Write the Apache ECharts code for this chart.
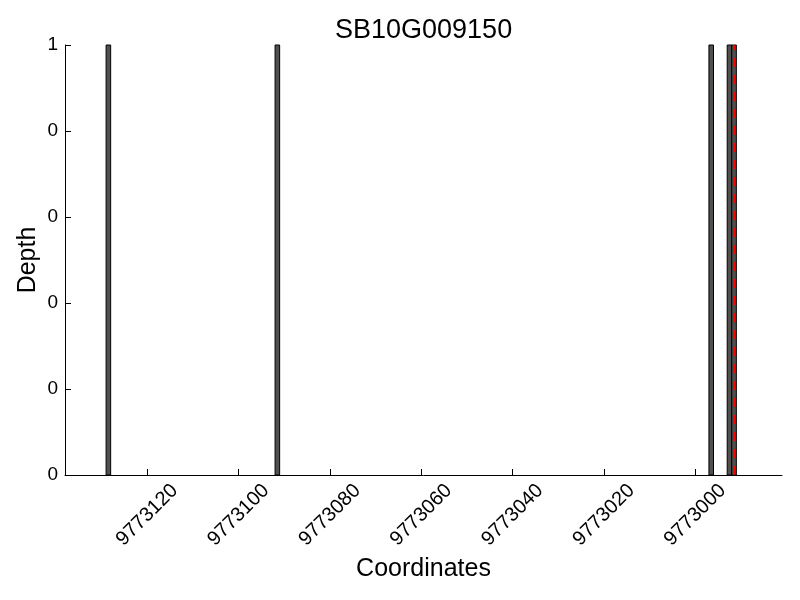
<!DOCTYPE html>
<html>
<head>
<meta charset="utf-8">
<script src="https://cdn.jsdelivr.net/npm/echarts@6/dist/echarts.min.js"></script>
<style>html,body{margin:0;padding:0;background:#fff}#c{width:800px;height:600px}</style>
</head>
<body>
<div id="c"></div>
<script>
const titleText = 'SB10G009150';
const binStarts = [9773128, 9773091, 9772996, 9772992, 9772991];
const binEnds   = [9773129, 9773092, 9772997, 9772993, 9772992];
const depths    = [1, 1, 1, 1, 1];
const markerPos = 9772991.5;
const xTickValues = [9773120, 9773100, 9773080, 9773060, 9773040, 9773020, 9773000];
const yTickValues = [0, 0.2, 0.4, 0.6, 0.8, 1];
const yTickLabels = ['0', '0', '0', '0', '0', '1'];
const xMin = 9772981, xMax = 9773138;

const FONT = 'Liberation Sans';
const chart = echarts.init(document.getElementById('c'), null, {renderer: 'canvas'});
const barData = binStarts.map((s, i) => [s, binEnds[i], depths[i]]);

chart.setOption({
  animation: false,
  backgroundColor: '#fff',
  title: {
    text: titleText, left: 330, top: 12,
    textStyle: {fontFamily: FONT, fontSize: 27, fontWeight: 'normal', color: '#000'}
  },
  grid: {left: 65, right: 18, top: 45, bottom: 125, containLabel: false},
  xAxis: {
    type: 'value', inverse: true, min: xMin, max: xMax,
    name: 'Coordinates', nameLocation: 'middle', nameGap: 81,
    nameTextStyle: {fontFamily: FONT, fontSize: 25, color: '#000'},
    splitLine: {show: false},
    axisLine: {show: true, onZero: false, lineStyle: {color: '#000', width: 1}},
    axisTick: {show: true, inside: true, length: 6, customValues: xTickValues, lineStyle: {color: '#000'}},
    axisLabel: {
      customValues: xTickValues, rotate: 45, align: 'center', verticalAlign: 'middle', margin: 40,
      fontFamily: FONT, fontSize: 20, color: '#000',
      formatter: v => String(v)
    }
  },
  yAxis: {
    type: 'value', min: 0, max: 1,
    name: 'Depth', nameLocation: 'middle', nameGap: 24, nameMoveOverlap: false,
    nameTextStyle: {fontFamily: FONT, fontSize: 25, color: '#000'},
    splitLine: {show: false},
    axisLine: {show: true, lineStyle: {color: '#000', width: 1}},
    axisTick: {show: true, inside: true, length: 6, customValues: yTickValues, lineStyle: {color: '#000'}},
    axisLabel: {
      customValues: yTickValues, margin: 7, fontFamily: FONT, fontSize: 19, color: '#000',
      formatter: v => {
        const i = yTickValues.findIndex(t => Math.abs(t - v) < 1e-9);
        return i >= 0 ? yTickLabels[i] : '';
      }
    }
  },
  series: [
    {
      type: 'custom',
      data: barData,
      encode: {x: [0, 1], y: 2},
      renderItem: function (params, api) {
        const p0 = api.coord([api.value(0), api.value(2)]);
        const p1 = api.coord([api.value(1), 0]);
        const x = Math.min(p0[0], p1[0]);
        const w = Math.abs(p1[0] - p0[0]);
        return {
          type: 'rect',
          shape: {x: x, y: p0[1], width: w, height: p1[1] - p0[1]},
          style: {fill: '#505050', stroke: '#000', lineWidth: 1}
        };
      }
    },
    {
      type: 'line',
      data: [[markerPos, 0], [markerPos, 1]],
      symbol: 'none',
      lineStyle: {color: '#ff0000', width: 2, type: [9, 8]},
      z: 5
    }
  ]
});
</script>
</body>
</html>
